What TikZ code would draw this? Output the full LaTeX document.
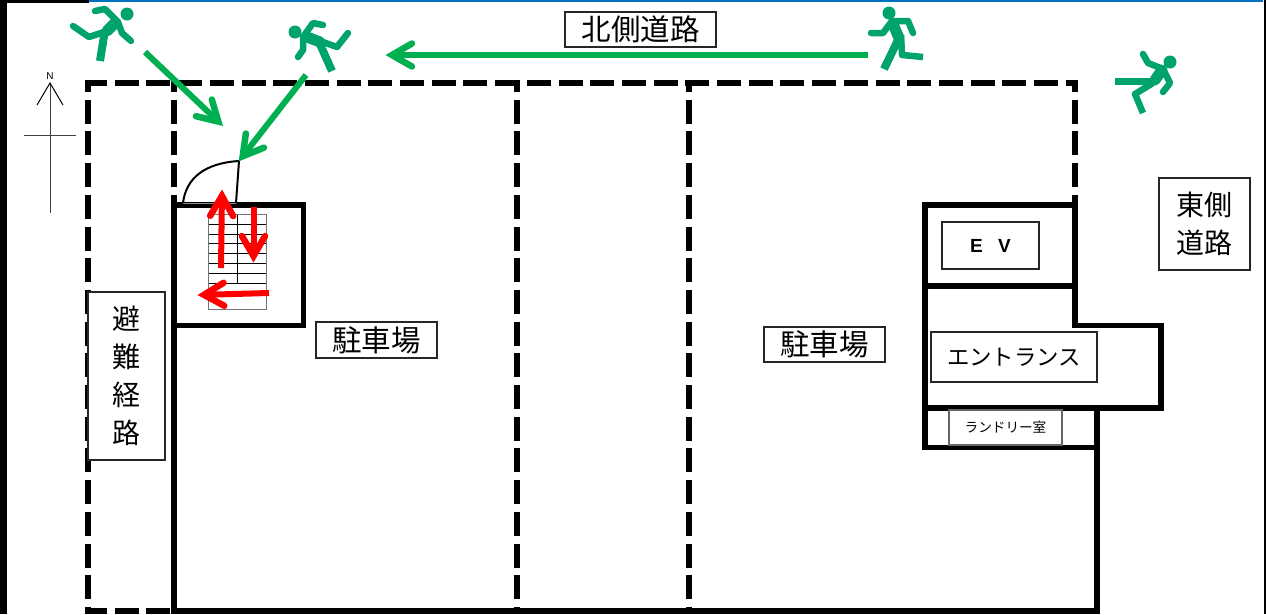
\documentclass[tikz,border=0pt]{standalone}
\usepackage{fontspec}
\setmainfont{Noto Sans CJK JP}
\setsansfont{Liberation Sans}
\usetikzlibrary{arrows.meta,calc}
\definecolor{runnergreen}{RGB}{0,163,108}
\definecolor{arrowgreen}{RGB}{0,176,80}
\definecolor{topblue}{RGB}{0,112,192}
\tikzset{
  wall/.style={line width=5.8pt,line cap=butt,line join=miter},
  dashwall/.style={line width=5.8pt,dash pattern=on 24pt off 7.7pt},
  labelbox/.style={draw=black!85,line width=1.4pt,fill=white,inner sep=0pt,align=center},
  flowshaft/.style={line width=6pt},
  flowhead/.style={line width=6.5pt,line cap=round,line join=miter,miter limit=10},
  limb/.style={draw=runnergreen,line width=6.5pt,line join=round,line cap=round},
  trunk/.style={draw=runnergreen,line width=11pt,line cap=round},
  stairline/.style={draw=black,line width=0.9pt},
  compass/.style={draw=black!75,line width=1pt},
}
\newcommand{\bigtxt}{\fontsize{28}{38}\selectfont}
\newcommand{\midtxt}{\fontsize{29.5}{36}\selectfont}
\newcommand{\dn}[1]{\raisebox{-2pt}{#1}}
% open arrow from named coordinate #2 to named coordinate #3 in colour #1
\newcommand{\flowarrow}[3]{%
  \coordinate (apex) at ($(#3)!6pt!(#2)$);
  \draw[flowshaft,draw=#1] (#2) -- (apex);
  \draw[flowhead,draw=#1] ($(apex)!23pt!30:(#2)$) -- (apex) -- ($(apex)!23pt!-30:(#2)$);
}
\begin{document}
\begin{tikzpicture}[x=1pt,y=-1pt]
\useasboundingbox (0,0) rectangle (1266,614);
\fill[white] (0,0) rectangle (1266,614);
% frame
\fill[black] (0,0) rectangle (7,614);
\fill[black] (7,0) rectangle (89,3);
\fill[topblue] (89,0) rectangle (1263,2);
\fill[black] (1264,0) rectangle (1266,614);
% dashed boundary
\draw[dashwall,dash phase=2pt] (85,83) -- (1078,83);
\draw[dashwall,dash phase=12pt] (88,80) -- (88,614);
\draw[dashwall,dash phase=12pt] (1075,80) -- (1075,205);
\draw[dashwall,dash phase=12pt] (174,80) -- (174,205);
\draw[dashwall,dash phase=12pt] (517,80) -- (517,611);
\draw[dashwall,dash phase=12pt] (689,80) -- (689,611);
\draw[dashwall,dash phase=2pt] (85,611) -- (171,611);
% solid walls
\draw[wall] (174,205) -- (174,611) -- (1097,611) -- (1097,408);
\draw[wall] (171,205) -- (303.5,205) -- (303.5,325.5) -- (171,325.5);
\draw[wall] (1075,205) -- (925,205) -- (925,447.5) -- (1097,447.5);
\draw[wall] (925,286) -- (1075,286);
\draw[wall] (1075,205) -- (1075,325.5) -- (1161,325.5) -- (1161,408) -- (925,408);
% stairs
\foreach \yy in {224.3,234,243.7,253.7,263.7,273.7,283.7}{\draw[stairline] (208.5,\yy) -- (266.7,\yy);}
\draw[stairline] (237.7,214) -- (237.7,283.7);
\draw[draw=black!55,line width=1pt] (208.5,214) rectangle (266.7,309);
% door
\coordinate (doorhinge) at (236,203);
\coordinate (doortip) at (239,161);
\coordinate (doorfoot) at (183,203);
\draw[black!45,line width=1pt] (doorfoot) -- (doorhinge);
\draw[black,line width=2pt] (doorhinge) -- (doortip) .. controls (205,163) and (186,178) .. (doorfoot);
% compass
\coordinate (ntip) at (50,83);
\coordinate (nfoot) at (50,213);
\draw[compass] (ntip) -- (nfoot);
\draw[compass] (24,135) -- (76,135);
\draw[black,line width=1pt] (37,105) -- (ntip) -- (63,105);
\node[font=\sffamily\fontsize{10}{10}\selectfont,inner sep=0pt] (north) at (50,76) {N};
% runner 1
\fill[runnergreen] (127,14) circle (6.5);
\draw[limb] (95,11) -- (105,9) -- (118,22) -- (122,33) -- (131,41);
\draw[trunk] (115,23) -- (107,31);
\draw[limb] (104,32) -- (89,37) -- (73,26);
\draw[draw=runnergreen,line width=8pt] (105,30) -- (100,61);
% runner 2
\fill[runnergreen] (295,32) circle (6.5);
\draw[limb] (323,25) -- (313,23) -- (303,37) -- (303,50) -- (298,57);
\draw[trunk] (307,37) -- (320,42);
\draw[limb] (320,41) -- (337,47) -- (348,33);
\draw[draw=runnergreen,line width=8pt] (319,42) -- (332,71);
% runner 3
\fill[runnergreen] (889,13) circle (6.5);
\draw[limb] (871,33) -- (883,33) -- (892,21) -- (908,21) -- (913,33);
\draw[trunk] (893,24) -- (899,38);
\draw[draw=runnergreen,line width=8pt] (898,40) -- (884,69);
\draw[limb,line cap=butt] (901,35) -- (902,55) -- (923,57);
% runner 4
\fill[runnergreen] (1170,62) circle (6.5);
\draw[limb] (1143,54) -- (1148,63) -- (1163,69) -- (1170,83) -- (1163,92);
\draw[trunk] (1162,70) -- (1155,80);
\draw[draw=runnergreen,line width=7pt] (1155,81) -- (1115,81);
\draw[limb,line cap=butt] (1153,83) -- (1135,94) -- (1143,113);
% green arrows
\coordinate (a1s) at (145,52);
\coordinate (a1e) at (222.7,125.7);
\coordinate (a2s) at (306,75);
\coordinate (a2e) at (239,161);
\coordinate (a3s) at (868,55);
\coordinate (a3e) at (386,55);
\flowarrow{arrowgreen}{a1s}{a1e}
\flowarrow{arrowgreen}{a2s}{a2e}
\flowarrow{arrowgreen}{a3s}{a3e}
% red arrows
\coordinate (r1s) at (221,268);
\coordinate (r1e) at (222,190);
\coordinate (r2s) at (253.5,207);
\coordinate (r2e) at (253.5,262);
\coordinate (r3s) at (269,293);
\coordinate (r3e) at (198,295);
\flowarrow{red}{r1s}{r1e}
\flowarrow{red}{r2s}{r2e}
\flowarrow{red}{r3s}{r3e}
% labels
\node[labelbox,minimum width=151pt,minimum height=35pt,font=\midtxt] (kita) at (640.5,29.5) {北側道路};
\node[labelbox,minimum width=121pt,minimum height=36pt,font=\midtxt] (park1) at (376.5,340) {駐車場};
\node[labelbox,minimum width=121pt,minimum height=35pt,font=\midtxt] (park2) at (824.5,344.5) {駐車場};
\node[labelbox,minimum width=77pt,minimum height=168pt,font=\bigtxt] (hinan) at (126.5,376) {\dn{避}\\\dn{難}\\\dn{経}\\\dn{路}};
\node[labelbox,minimum width=91pt,minimum height=92pt,font=\bigtxt] (higashi) at (1204.5,224) {\dn{東側}\\\dn{道路}};
\node[labelbox,minimum width=97pt,minimum height=47pt,font=\sffamily\bfseries\fontsize{19}{19}\selectfont] (ev) at (990.5,245.5) {E\hspace{0.8em}V};
\node[labelbox,minimum width=166pt,minimum height=50pt,font=\fontsize{22.4}{24}\selectfont] (ent) at (1014,357) {エントランス};
\node[labelbox,draw=black!60,minimum width=113pt,minimum height=35pt,font=\fontsize{13.6}{15}\selectfont] (laundry) at (1005.5,427.5) {ランドリー室};
\end{tikzpicture}
\end{document}
